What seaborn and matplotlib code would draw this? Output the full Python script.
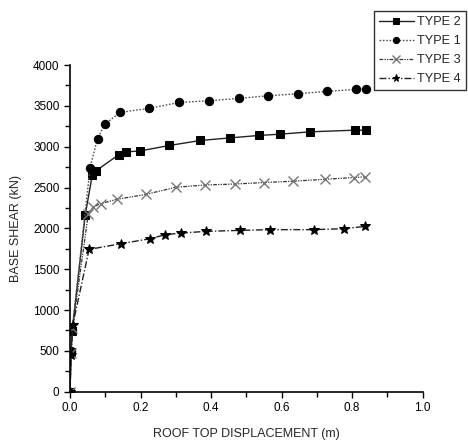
import numpy as np
import pandas as pd
import matplotlib
matplotlib.use("Agg")
import matplotlib.pyplot as plt
import seaborn as sns
from matplotlib.ticker import MultipleLocator

sns.set_style("ticks")
plt.rcParams['font.family'] = ['Liberation Sans', 'DejaVu Sans']

type2_x = [0.0, 0.003, 0.006, 0.043, 0.063, 0.073, 0.139, 0.158, 0.199, 0.282, 0.370, 0.455, 0.535, 0.595, 0.682, 0.807, 0.839]
type2_y = [0, 480, 740, 2160, 2650, 2703, 2904, 2936, 2948, 3015, 3076, 3108, 3137, 3153, 3182, 3202, 3202]

type1_x = [0.0, 0.003, 0.006, 0.057, 0.078, 0.099, 0.142, 0.225, 0.310, 0.393, 0.478, 0.561, 0.646, 0.729, 0.8125, 0.839]
type1_y = [0, 500, 760, 2745, 3100, 3276, 3420, 3469, 3542, 3562, 3591, 3623, 3648, 3677, 3702, 3702]

type3_x = [0.0, 0.003, 0.007, 0.052, 0.066, 0.087, 0.134, 0.216, 0.300, 0.384, 0.469, 0.549, 0.633, 0.722, 0.805, 0.836]
type3_y = [0, 470, 780, 2180, 2261, 2303, 2356, 2417, 2503, 2531, 2543, 2561, 2577, 2601, 2622, 2630]

type4_x = [0.0, 0.003, 0.008, 0.054, 0.144, 0.227, 0.270, 0.3145, 0.3855, 0.481, 0.566, 0.691, 0.776, 0.838]
type4_y = [0, 450, 820, 1742, 1812, 1873, 1922, 1942, 1963, 1975, 1984, 1984, 1996, 2024]

series = [
    ("TYPE 2", type2_x, type2_y, dict(marker='s', linestyle='-', color='#222222', markersize=6, markerfacecolor='black', markeredgecolor='black', linewidth=1.0)),
    ("TYPE 1", type1_x, type1_y, dict(marker='o', linestyle=(0, (1.2, 1.2)), color='#555555', markersize=6, markerfacecolor='black', markeredgecolor='black', linewidth=1.0)),
    ("TYPE 3", type3_x, type3_y, dict(marker='x', linestyle=(0, (3, 1, 1, 1, 1, 1)), color='#333333', markersize=7, markerfacecolor='#888888', markeredgecolor='#777777', markeredgewidth=1.0, linewidth=0.9)),
    ("TYPE 4", type4_x, type4_y, dict(marker='*', linestyle=(0, (5, 1.5, 1, 1.5)), color='#222222', markersize=7, markerfacecolor='black', markeredgecolor='black', linewidth=1.0)),
]

fig = plt.figure(figsize=(4.68, 4.41), dpi=100)
ax = fig.add_axes([0.1496, 0.1118, 0.7534, 0.7408])

for name, xs, ys, st in series:
    df = pd.DataFrame({"x": xs, "y": ys})
    sns.lineplot(data=df, x="x", y="y", ax=ax, sort=False, estimator=None, label=name, **st)

ax.set_xlim(0, 1.0)
ax.set_ylim(0, 4000)
ax.xaxis.set_major_locator(MultipleLocator(0.2))
ax.xaxis.set_minor_locator(MultipleLocator(0.1))
ax.yaxis.set_major_locator(MultipleLocator(500))
ax.yaxis.set_minor_locator(MultipleLocator(250))
ax.xaxis.set_major_formatter(matplotlib.ticker.FormatStrFormatter('%.1f'))
ax.tick_params(which='both', direction='out', length=4, width=1.0, labelsize=8.5, colors='black')
ax.tick_params(which='minor', length=3.5)
for s in ['top', 'right']:
    ax.spines[s].set_visible(False)
for s in ['left', 'bottom']:
    ax.spines[s].set_linewidth(1.2)
    ax.spines[s].set_color('black')

ax.set_xlabel("ROOF TOP DISPLACEMENT (m)", fontsize=9, labelpad=10)
ax.set_ylabel("BASE SHEAR (kN)", fontsize=9, labelpad=8)

ax.get_legend().remove()
handles, labels = ax.get_legend_handles_labels()
leg = fig.legend(handles, labels, loc='upper left', bbox_to_anchor=(0.799, 0.975),
                 fontsize=9.2, frameon=True, fancybox=False, handlelength=2.7, markerscale=0.75,
                 handletextpad=0.3, labelspacing=0.55, borderpad=0.4, borderaxespad=0)
leg.get_frame().set_edgecolor('black')
leg.get_frame().set_linewidth(1.0)

fig.savefig("out.png", dpi=100)
